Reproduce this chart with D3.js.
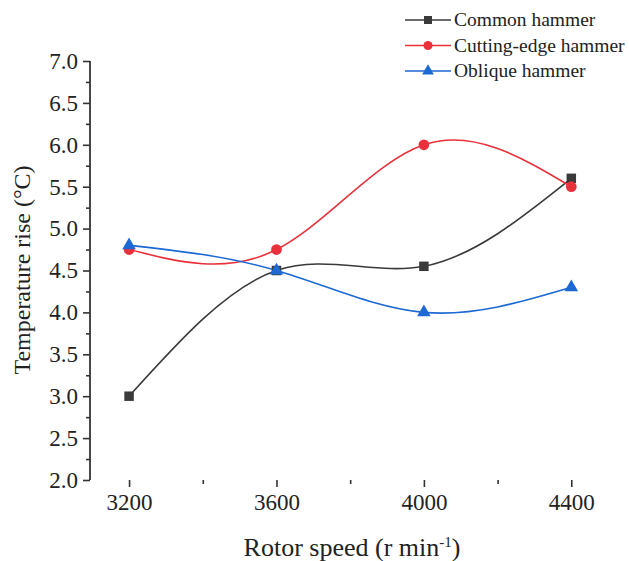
<html>
<head>
<script src="https://cdn.jsdelivr.net/npm/d3@7"></script>
<style>
    body { margin: 0; background: #fff; }
    text { font-family: "Liberation Serif", "Times New Roman", serif; fill: #222; }
</style>
</head>
<body>
<svg id="container" width="629" height="561"></svg>
<script>
    // data
    let speeds = [3200, 3600, 4000, 4400]
    let common = [3.0, 4.5, 4.55, 5.6]
    let cutting = [4.75, 4.75, 6.0, 5.5]
    let oblique = [4.8, 4.5, 4.0, 4.3]
    let yTicks = [2.0, 2.5, 3.0, 3.5, 4.0, 4.5, 5.0, 5.5, 6.0, 6.5, 7.0]
    let xTicks = [3200, 3600, 4000, 4400]
    let names = ["Common hammer", "Cutting-edge hammer", "Oblique hammer"]

    let series = [
        { name: names[0], values: common, color: "#3a3a3a", shape: d3.symbolSquare },
        { name: names[1], values: cutting, color: "#e8313b", shape: d3.symbolCircle },
        { name: names[2], values: oblique, color: "#1c69d3", shape: d3.symbolTriangle }
    ]

    let container = d3.select("#container")

    let x = d3.scaleLinear().domain([3094, 4505]).range([90, 610])
    let y = d3.scaleLinear().domain([2, 7]).range([480, 61])

    // axes
    let xAxis = container.append("g")
        .attr("transform", "translate(0,480)")
        .call(d3.axisBottom(x).tickValues(xTicks).tickFormat(d3.format("d")).tickSize(7).tickPadding(7))
    let xMinor = container.append("g")
        .attr("transform", "translate(0,480)")
        .call(d3.axisBottom(x).tickValues([3400, 3800, 4200]).tickFormat("").tickSize(4))

    let yAxis = container.append("g")
        .attr("transform", "translate(90,0)")
        .call(d3.axisLeft(y).tickValues(yTicks).tickFormat(d3.format(".1f")).tickSize(7).tickPadding(5))
    let yMinor = container.append("g")
        .attr("transform", "translate(90,0)")
        .call(d3.axisLeft(y).tickValues(d3.range(2.25, 7, 0.5)).tickFormat("").tickSize(4))

    container.selectAll(".domain").attr("stroke", "#333").attr("stroke-width", 1.8)
    container.selectAll(".tick line").attr("stroke", "#333").attr("stroke-width", 1.6)
    container.selectAll(".tick text")
        .style("font-family", "Liberation Serif")
        .style("font-size", "23px")
        .attr("fill", "#222")
    xMinor.select(".domain").remove()
    yMinor.select(".domain").remove()
    yAxis.select(".domain").attr("d", "M0,480V61")
    xAxis.select(".domain").attr("d", "M83,480H610")

    // axis titles
    container.append("text")
        .attr("x", 352).attr("y", 556)
        .attr("text-anchor", "middle")
        .style("font-size", "26px")
        .html('Rotor speed (r min<tspan dy="-9" font-size="15">-1</tspan><tspan dy="9">)</tspan>')

    container.append("text")
        .attr("transform", "translate(30,270) rotate(-90)")
        .attr("text-anchor", "middle")
        .style("font-size", "24px")
        .text("Temperature rise (°C)")

    // lines
    let line = d3.line()
        .x((d, i) => x(speeds[i]))
        .y(d => y(d))
        .curve(d3.curveNatural)

    container.selectAll("path.series")
        .data(series)
        .enter()
        .append("path")
        .attr("class", "series")
        .attr("fill", "none")
        .attr("stroke", d => d.color)
        .attr("stroke-width", 1.6)
        .attr("d", d => line(d.values))

    series.forEach(s => {
        container.selectAll(null)
            .data(s.values)
            .enter()
            .append("path")
            .attr("d", d3.symbol().type(s.shape).size(s.shape == d3.symbolTriangle ? 80 : 90))
            .attr("transform", (d, i) => "translate(" + x(speeds[i]) + "," + y(d) + ")")
            .attr("fill", s.color)
    })

    // legend
    let legend = container.append("g").attr("transform", "translate(405,20)")
    let rows = legend.selectAll("g")
        .data(series)
        .enter()
        .append("g")
        .attr("transform", (d, i) => "translate(0," + i * 25.5 + ")")
    rows.append("line")
        .attr("x1", 0).attr("x2", 46)
        .attr("stroke", d => d.color)
        .attr("stroke-width", 1.6)
    rows.append("path")
        .attr("d", d => d3.symbol().type(d.shape).size(d.shape == d3.symbolTriangle ? 60 : 64)())
        .attr("transform", "translate(23,0)")
        .attr("fill", d => d.color)
    rows.append("text")
        .attr("x", 49).attr("y", 6)
        .style("font-size", "19.5px")
        .text(d => d.name)
</script>
</body>
</html>
